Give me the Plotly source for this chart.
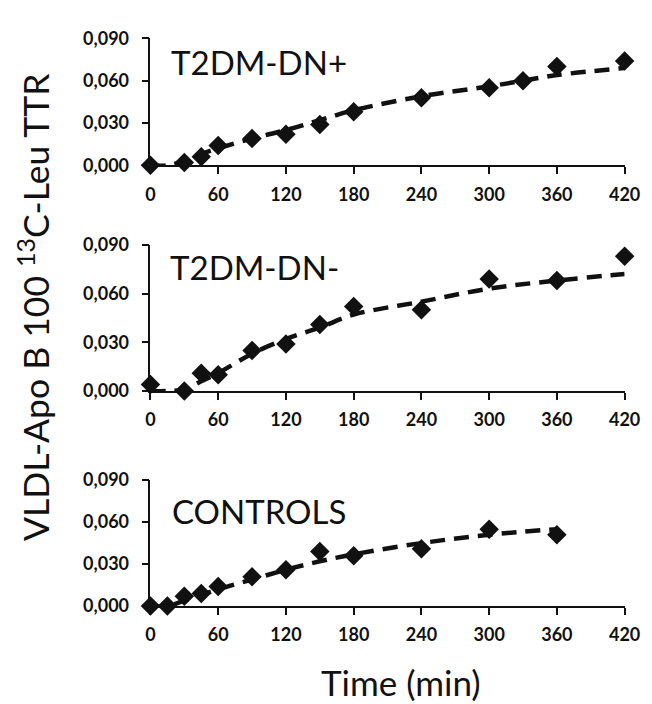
import plotly.graph_objects as go

# ---- data ----
time_dnpos = [0, 30, 45, 60, 90, 120, 150, 180, 240, 300, 330, 360, 420]
ttr_dnpos = [0.000, 0.002, 0.006, 0.014, 0.019, 0.022, 0.029, 0.038, 0.048, 0.055, 0.060, 0.070, 0.074]
fit_time_dnpos = [0, 15, 30, 45, 60, 90, 120, 150, 180, 240, 300, 330, 360, 420]
fit_dnpos = [0.000, 0.000, 0.003, 0.008, 0.012, 0.019, 0.025, 0.032, 0.039, 0.049, 0.056, 0.060, 0.064, 0.069]

time_dnneg = [0, 30, 45, 60, 90, 120, 150, 180, 240, 300, 360, 420]
ttr_dnneg = [0.004, 0.000, 0.011, 0.010, 0.025, 0.029, 0.041, 0.052, 0.050, 0.069, 0.068, 0.083]
fit_time_dnneg = [0, 15, 30, 45, 60, 90, 120, 150, 180, 240, 300, 360, 420]
fit_dnneg = [0.000, 0.000, 0.001, 0.006, 0.011, 0.023, 0.032, 0.039, 0.047, 0.055, 0.063, 0.068, 0.072]

time_ctrl = [0, 15, 30, 45, 60, 90, 120, 150, 180, 240, 300, 360]
ttr_ctrl = [0.000, 0.000, 0.007, 0.009, 0.014, 0.021, 0.026, 0.039, 0.036, 0.041, 0.055, 0.051]
fit_time_ctrl = [0, 15, 30, 45, 60, 90, 120, 150, 180, 240, 300, 360]
fit_ctrl = [0.000, 0.000, 0.004, 0.008, 0.012, 0.019, 0.026, 0.032, 0.037, 0.045, 0.051, 0.055]

panel_labels = ["T2DM-DN+", "T2DM-DN-", "CONTROLS"]
x_ticks = [0, 60, 120, 180, 240, 300, 360, 420]
y_ticks = [0.0, 0.03, 0.06, 0.09]
y_ticktext = ["0,000", "0,030", "0,060", "0,090"]

FONT = "Lato"
INK = "#111111"

panels = [
    (time_dnpos, ttr_dnpos, fit_time_dnpos, fit_dnpos),
    (time_dnneg, ttr_dnneg, fit_time_dnneg, fit_dnneg),
    (time_ctrl, ttr_ctrl, fit_time_ctrl, fit_ctrl),
]

fig = go.Figure()
for i, (tx, ty, fx, fy) in enumerate(panels):
    suffix = "" if i == 0 else str(i + 1)
    fig.add_trace(go.Scatter(
        x=fx, y=fy, mode="lines", line=dict(color=INK, width=4.5, dash="15px,9px", shape="spline"),
        xaxis="x" + suffix, yaxis="y" + suffix, showlegend=False, cliponaxis=False, hoverinfo="skip"))
    fig.add_trace(go.Scatter(
        x=tx, y=ty, mode="markers", marker=dict(symbol="diamond", size=15, color=INK),
        xaxis="x" + suffix, yaxis="y" + suffix, showlegend=False, cliponaxis=False))

W, H = 652, 704


def px(x):
    return x / W


def py(y):
    return 1 - y / H


x_dom = [px(142), px(632)]
y_doms = [(19, 150), (232, 383), (475, 605)]

layout = dict(
    width=W, height=H, margin=dict(l=0, r=0, t=0, b=0),
    paper_bgcolor="white", plot_bgcolor="white",
    font=dict(family=FONT, color=INK),
)
for i, (top, bot) in enumerate(y_doms):
    suffix = "" if i == 0 else str(i + 1)
    layout["xaxis" + suffix] = dict(
        domain=x_dom, range=[0, 420], anchor="y" + suffix,
        tickvals=x_ticks, ticktext=[str(v) for v in x_ticks],
        showgrid=False, zeroline=False, showline=True, linecolor=INK, linewidth=1.5,
        ticks="outside", ticklen=7, tickwidth=1.5, tickcolor=INK,
        tickfont=dict(family=FONT, size=18, color=INK, weight="bold"),
        ticklabelstandoff=5, fixedrange=True)
    layout["yaxis" + suffix] = dict(
        domain=[py(bot), py(top)], range=[0, 0.09], anchor="x" + suffix,
        tickvals=y_ticks, ticktext=y_ticktext,
        showgrid=False, zeroline=False, showline=True, linecolor=INK, linewidth=1.5,
        ticks="outside", ticklen=7, tickwidth=1.5, tickcolor=INK,
        tickfont=dict(family=FONT, size=18, color=INK, weight="bold"),
        ticklabelstandoff=9, fixedrange=True)

fig.update_layout(**layout)

label_pos = [(161, 43), (160, 255), (162, 507)]
for text, (lx, ly) in zip(panel_labels, label_pos):
    fig.add_annotation(text=text, xref="paper", yref="paper", x=px(lx), y=py(ly),
                       xanchor="left", yanchor="middle", showarrow=False,
                       font=dict(family=FONT, size=33, color=INK))

fig.add_annotation(text="VLDL-Apo B 100 <sup>13</sup>C-Leu TTR", xref="paper", yref="paper",
                   x=px(21), y=py(296), xanchor="center", yanchor="middle", textangle=-90,
                   showarrow=False, font=dict(family=FONT, size=35.5, color=INK))
fig.add_annotation(text="Time (min)", xref="paper", yref="paper",
                   x=px(401), y=py(683), xanchor="center", yanchor="middle",
                   showarrow=False, font=dict(family=FONT, size=35, color=INK))

fig.write_html("out.html")
